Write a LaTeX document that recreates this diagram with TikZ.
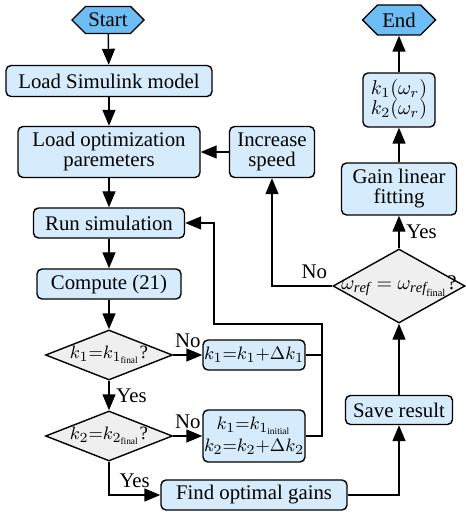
\documentclass[tikz,border=0pt]{standalone}
\usepackage{fontspec}
\setmainfont{Liberation Serif}
\usepackage{tikz}
\usetikzlibrary{arrows.meta}
\usetikzlibrary{shapes,positioning}

\definecolor{boxblue}{RGB}{214,236,252}
\definecolor{termblue}{RGB}{108,190,245}
\definecolor{decgray}{RGB}{239,239,239}
\newcommand{\flowfont}{\rmfamily\fontsize{10.4}{10}\selectfont}
\newcommand{\mathfont}{\fontsize{9.4}{10}\selectfont}
\newcommand{\tinysub}[1]{{\scriptscriptstyle\mathrm{#1}}}

\begin{document}
\begin{tikzpicture}[
		x=0.5pt, y=-0.5pt,
		proc/.style={rectangle, rounded corners=2.5pt, draw, fill=boxblue, align=center, inner sep=1pt, font=\flowfont},
		term/.style={signal, signal to=east and west, draw, fill=termblue, inner sep=1pt, font=\flowfont},
		dec/.style={diamond, draw, fill=decgray, inner sep=0pt, font=\flowfont},
		every node/.append style={font=\flowfont},
		line width=0.7pt,
		->,>={Triangle[length=8pt,width=6.5pt]}
		]
	
		\useasboundingbox (0,0) rectangle (465,512);
	
		% colonne de gauche
		\node[term, minimum width=36pt, minimum height=13.5pt] (start) at (108,20) {Start};
		\node[proc, minimum width=103pt, minimum height=15.5pt] (loadsim) at (109,81) {Load Simulink model};
		\node[proc, minimum width=91pt, minimum height=25.5pt] (loadopt) at (109,152) {Load optimization\\paremeters};
		\node[proc, minimum width=42.5pt, minimum height=25.5pt] (inc) at (272,152) {Increase\\speed};
		\node[proc, minimum width=75.5pt, minimum height=15pt] (run) at (109,223) {Run simulation};
		\node[proc, minimum width=72pt, minimum height=15pt] (comp) at (109,284) {Compute (21)};
		\node[dec, minimum width=63.5pt, minimum height=25pt] (d1) at (109,355) {\makebox[0pt]{\mathfont$k_1{=}k_{1_{\tinysub{final}}}$?}};
		\node[proc, minimum width=51pt, minimum height=15pt] (k1) at (254,355) {\makebox[44pt]{\mathfont$k_1{=}k_1{+}\Delta k_1$}};
		\node[dec, minimum width=63.5pt, minimum height=25pt] (d2) at (109,436) {\makebox[0pt]{\mathfont$k_2{=}k_{2_{\tinysub{final}}}$?}};
		\node[proc, minimum width=51pt, minimum height=26pt] (k2) at (254,436) {\makebox[44pt]{\mathfont$k_1{=}k_{1_{\tinysub{initial}}}$}\\[1pt]\makebox[44pt]{\mathfont$k_2{=}k_2{+}\Delta k_2$}};
		\node[proc, minimum width=93pt, minimum height=15pt] (find) at (254,495) {Find optimal gains};
	
		% colonne de droite
		\node[proc, minimum width=53.5pt, minimum height=14.5pt] (save) at (399,410) {Save result};
		\node[dec, minimum width=66pt, minimum height=37pt] (d3) at (399,286) {\makebox[0pt]{$\omega_{\mathit{ref}}=\omega_{\mathit{ref}_{\tinysub{final}}}$?}};
		\node[proc, minimum width=57.5pt, minimum height=26pt] (fit) at (399,189) {Gain linear\\fitting};
		\node[proc, minimum width=36pt, minimum height=27pt] (kw) at (399,100) {$k_1(\omega_r)$\\$k_2(\omega_r)$};
		\node[term, minimum width=36.5pt, minimum height=15pt] (end) at (399,20) {End};
	
		\coordinate (c1) at (322,324);
		\coordinate (c2) at (214,324);
	
		\draw (start) -- (loadsim);
		\draw (loadsim) -- (loadopt);
		\draw (loadopt) -- (run);
		\draw (run) -- (comp);
		\draw (comp) -- (d1);
		\draw (d1) -- (k1) node[midway, above] {No};
		\draw (d1) -- (d2) node[midway, right] {Yes};
		\draw (d2) -- (k2) node[midway, above] {No};
		\draw (d2.south) |- (find.west) node[pos=0.75, above] {Yes};
		\draw[-] (k1.east) -- (k1.east -| c1);
		\draw (k2.east) -| (c1) -- (c2) |- (run.east);
		\draw (find.east) -| (save.south);
		\draw (save) -- (d3);
		\draw (d3.west) -| (inc.south) node[pos=0.15, above] {No};
		\draw (inc) -- (loadopt);
		\draw (d3) -- (fit) node[midway, right] {Yes};
		\draw (fit) -- (kw);
		\draw (kw) -- (end);
	\end{tikzpicture}
\end{document}
